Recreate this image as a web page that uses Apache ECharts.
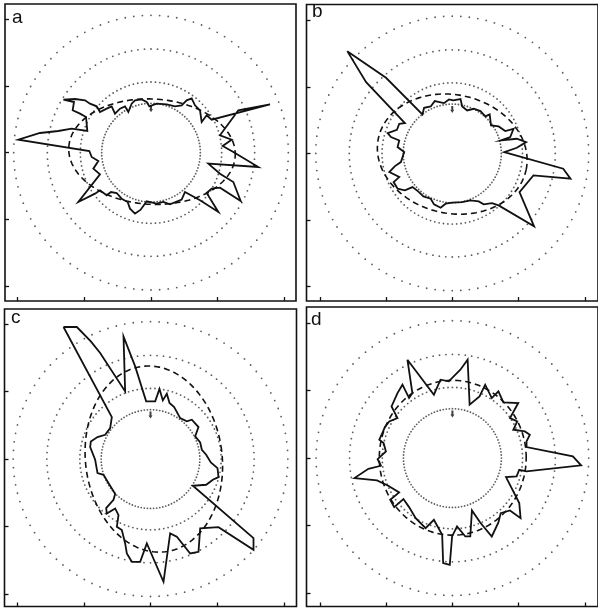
<!DOCTYPE html>
<html>
<head>
<meta charset="utf-8">
<script src="https://cdn.jsdelivr.net/npm/echarts@6/dist/echarts.min.js"></script>
<style>
  html, body { margin: 0; padding: 0; background: #fff; }
  #chart { width: 598px; height: 608px; }
</style>
</head>
<body>
<div id="chart"></div>
<script>
// panel letters
var panelNames = ['a', 'b', 'c', 'd']

// dotted reference rings (same radii in every panel) and the north mark
var ringRadii = [148, 212, 311, 412]
var ringDotCount = 100
var northMark = [0, 132]

// tick values on the frame axes
var ticksX = [-400, -200, 0, 200, 400]
var ticksYab = [-400, -200, 0, 200, 400]
var ticksYcd = [-405, -202.5, 0, 202.5, 405]

// solid traces, [x, y]
var traceA = [
  [-263, 159], [-228, 161], [-198, 157], [-183, 147], [-163, 139], [-153, 122], [-133, 132], [-118, 139],
  [-108, 117], [-93, 132], [-78, 139], [-68, 122], [-58, 147], [-48, 157], [-28, 160], [-13, 152],
  [-5, 139], [17, 147], [47, 145], [72, 139], [92, 142], [107, 157], [122, 163], [132, 142],
  [147, 127], [152, 92], [167, 112], [182, 99], [357, 145], [262, 127], [207, 52], [242, 39],
  [215, 20], [247, 2], [322, -43], [172, -33], [207, -63], [247, -88], [269, -145], [207, -105],
  [182, -108], [167, -121], [202, -178], [147, -143], [102, -118], [92, -141], [57, -155], [37, -148],
  [17, -153], [-13, -146], [-31, -171], [-48, -183], [-63, -168], [-70, -148], [-88, -138], [-103, -121],
  [-120, -118], [-133, -128], [-153, -113], [-168, -123], [-218, -148], [-153, -65], [-173, -48], [-158, -25],
  [-178, -13], [-185, 5], [-398, 39], [-333, 59], [-278, 65], [-238, 72], [-191, 65], [-195, 107],
  [-213, 117], [-235, 127], [-231, 152]
]
var traceB = [
  [-317, 307], [-200, 227], [-90, 117], [-85, 137], [-65, 141], [-53, 157], [-25, 151], [-10, 162],
  [3, 159], [25, 163], [30, 141], [45, 129], [65, 134], [85, 127], [100, 111], [113, 117],
  [117, 84], [140, 81], [160, 67], [185, 74], [175, 49], [147, 39], [195, 44], [223, 34],
  [195, 17], [157, 4], [335, -46], [357, -76], [245, -66], [203, -116], [247, -219], [140, -156],
  [120, -149], [95, -153], [80, -144], [55, -141], [30, -146], [0, -148], [-20, -151], [-35, -163],
  [-55, -153], [-65, -136], [-87, -129], [-103, -114], [-120, -101], [-143, -111], [-165, -106], [-177, -86],
  [-160, -71], [-190, -56], [-173, -38], [-155, -26], [-145, 4], [-165, 19], [-160, 39], [-185, 49],
  [-195, 61], [-167, 71], [-160, 89], [-143, 91], [-260, 214]
]
var traceC = [
  [-261, 396], [-221, 396], [-179, 353], [-151, 318], [-76, 203], [-81, 368], [-46, 278], [-13, 173],
  [14, 173], [27, 210], [37, 176], [49, 196], [57, 168], [71, 156], [89, 123], [109, 113],
  [124, 118], [144, 96], [134, 68], [149, 50], [154, 28], [167, 13], [181, -10], [201, -27],
  [204, -54], [187, -62], [167, -77], [127, -80], [309, -237], [309, -272], [204, -204], [149, -208],
  [144, -278], [119, -283], [79, -233], [59, -223], [39, -368], [-11, -253], [-31, -308], [-56, -308],
  [-71, -283], [-76, -253], [-86, -213], [-101, -203], [-96, -168], [-106, -148], [-131, -163], [-133, -147],
  [-111, -122], [-106, -104], [-123, -77], [-141, -47], [-159, -42], [-166, -2], [-181, 36], [-179, 53],
  [-159, 66], [-136, 73], [-121, 93], [-116, 126]
]
var traceD = [
  [-136, 295], [-56, 190], [-36, 235], [-11, 230], [24, 265], [46, 295], [52, 160], [82, 185],
  [99, 220], [119, 180], [139, 200], [154, 167], [199, 165], [174, 120], [196, 110], [184, 85],
  [219, 80], [234, 70], [224, 50], [224, 33], [364, 5], [389, -22], [224, -40], [202, -35],
  [194, -55], [162, -57], [202, -135], [206, -180], [174, -157], [146, -165], [139, -193], [119, -235],
  [84, -193], [59, -157], [54, -235], [39, -235], [14, -205], [-1, -235], [-8, -320], [-28, -315],
  [-31, -230], [-56, -185], [-81, -210], [-111, -180], [-131, -147], [-148, -123], [-176, -147], [-188, -125],
  [-161, -103], [-194, -83], [-228, -67], [-296, -60], [-254, -32], [-216, -23], [-226, -3], [-201, 20],
  [-208, 45], [-221, 55], [-214, 70], [-204, 93], [-191, 110], [-166, 120], [-184, 155], [-166, 195],
  [-151, 220], [-131, 180], [-121, 195]
]

// dashed fitted ellipses: centre x, centre y, semi-axis x, semi-axis y, rotation (deg)
var ellipseA = [3, 3, 250, 158, -3]
var ellipseB = [0, -2, 228, 178, -12]
var ellipseC = [10, 0, 205, 280, 7]
var ellipseD = [1, 1, 222, 232, 0]

var traces = [traceA, traceB, traceC, traceD]
var ellipses = [ellipseA, ellipseB, ellipseC, ellipseD]
var yTicks = [ticksYab, ticksYab, ticksYcd, ticksYcd]

// frame boxes in px and axis extents
var boxes = [
  { left: 5, top: 4, width: 291, height: 297, x: [-438, 435], y: [-445, 446] },
  { left: 306.5, top: 4.5, width: 293.5, height: 296.5, x: [-440, 440], y: [-443, 447] },
  { left: 4.5, top: 309, width: 292, height: 297.5, x: [-438, 438], y: [-442, 450] },
  { left: 306.5, top: 307, width: 293.5, height: 299.5, x: [-441, 440], y: [-445, 453] }
]
var letterPos = [[12, 8], [312, 2], [11, 308], [311, 310]]

function ringDots () {
  var pts = []
  ringRadii.forEach(function (r) {
    for (var i = 0; i < ringDotCount; i++) {
      var t = i / ringDotCount * Math.PI * 2
      pts.push([r * Math.cos(t), r * Math.sin(t)])
    }
  })
  return pts
}

function ellipsePoints (e) {
  var pts = []
  var rot = e[4] * Math.PI / 180
  for (var i = 0; i <= 180; i++) {
    var t = i / 180 * Math.PI * 2
    var x = e[2] * Math.cos(t)
    var y = e[3] * Math.sin(t)
    pts.push([e[0] + x * Math.cos(rot) - y * Math.sin(rot), e[1] + x * Math.sin(rot) + y * Math.cos(rot)])
  }
  return pts
}

var grids = []
var xAxes = []
var yAxes = []
var series = []
var titles = []
var dots = ringDots()

boxes.forEach(function (b, i) {
  grids.push({
    left: b.left, top: b.top, width: b.width, height: b.height,
    show: true, borderColor: '#111', borderWidth: 1.6, backgroundColor: 'transparent'
  })
  xAxes.push({
    gridIndex: i, type: 'value', min: b.x[0], max: b.x[1], position: 'bottom',
    axisLine: { show: false, onZero: false },
    axisTick: { show: true, inside: true, length: 4, customValues: ticksX, lineStyle: { color: '#111', width: 1.3 } },
    axisLabel: { show: false },
    splitLine: { show: false }
  })
  yAxes.push({
    gridIndex: i, type: 'value', min: b.y[0], max: b.y[1], position: 'left',
    axisLine: { show: false, onZero: false },
    axisTick: { show: true, inside: true, length: 4, customValues: yTicks[i], lineStyle: { color: '#111', width: 1.3 } },
    axisLabel: { show: false },
    splitLine: { show: false }
  })
  series.push({
    type: 'scatter', xAxisIndex: i, yAxisIndex: i, data: dots,
    symbol: 'circle', symbolSize: 1.8, itemStyle: { color: '#333' }, silent: true
  })
  series.push({
    type: 'line', xAxisIndex: i, yAxisIndex: i, data: ellipsePoints(ellipses[i]),
    showSymbol: false, symbol: 'none',
    lineStyle: { color: '#111', width: 1.6, type: [6, 4] }
  })
  series.push({
    type: 'line', xAxisIndex: i, yAxisIndex: i, data: traces[i].concat([traces[i][0]]),
    showSymbol: false, symbol: 'none',
    lineStyle: { color: '#111', width: 1.8, join: 'miter' }
  })
  series.push({
    type: 'scatter', xAxisIndex: i, yAxisIndex: i, data: [northMark],
    symbol: 'path://M1,0 L3,0 L3,5 L4,5 L2,9 L0,5 L1,5 Z', symbolSize: [4, 7],
    itemStyle: { color: '#111' }
  })
  titles.push({
    text: panelNames[i], left: letterPos[i][0], top: letterPos[i][1], padding: 0,
    textStyle: { fontFamily: 'Liberation Sans, Arial, sans-serif', fontSize: 19, fontWeight: 'normal', color: '#111' }
  })
})

var myChart = echarts.init(document.getElementById('chart'))
myChart.setOption({
  animation: false,
  backgroundColor: '#fff',
  title: titles,
  grid: grids,
  xAxis: xAxes,
  yAxis: yAxes,
  series: series
})
</script>
</body>
</html>
